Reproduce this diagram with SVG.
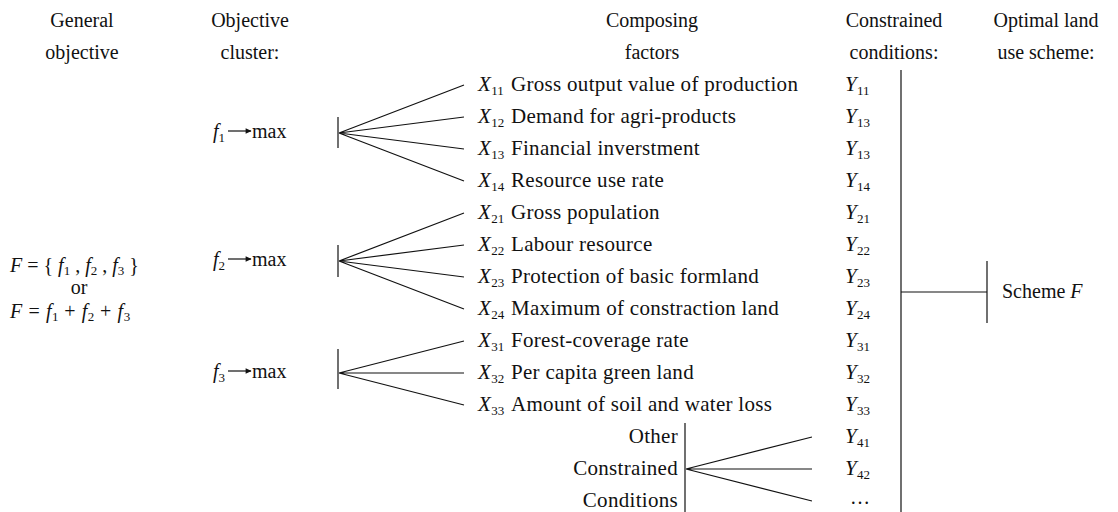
<svg xmlns="http://www.w3.org/2000/svg" width="1118" height="512" viewBox="0 0 1118 512">
<defs>
<style>
.t{font-family:"Liberation Serif","Times New Roman",serif;font-size:20px;fill:#111}
.d{font-size:21px;letter-spacing:0.3px}
.h{text-anchor:middle}
.e{text-anchor:end}
.i{font-style:italic}
.s{font-size:13px;letter-spacing:0}
.ln{stroke:#111;stroke-width:1.2;fill:none}
</style>
<marker id="ah" viewBox="0 0 10 10" refX="9" refY="5" markerWidth="8" markerHeight="6" orient="auto" markerUnits="userSpaceOnUse">
<path d="M0,0.5 L10,5 L0,9.5 Z" fill="#111"/>
</marker>
</defs>
<rect width="1118" height="512" fill="#fff"/>

<g id="headers">
<text class="t h" x="82" y="27">General</text>
<text class="t h" x="82" y="59">objective</text>
<text class="t h" x="250" y="27">Objective</text>
<text class="t h" x="250" y="59">cluster:</text>
<text class="t h" x="652" y="27">Composing</text>
<text class="t h" x="652" y="59">factors</text>
<text class="t h" x="894" y="27">Constrained</text>
<text class="t h" x="894" y="59">conditions:</text>
<text class="t h" x="1046" y="27">Optimal land</text>
<text class="t h" x="1046" y="59">use scheme:</text>
</g>

<g id="general-objective">
<text class="t" x="10" y="272" font-size="21"><tspan class="i">F</tspan> = { <tspan class="i">f</tspan><tspan class="s" dy="3">1</tspan><tspan dy="-3"> , </tspan><tspan class="i">f</tspan><tspan class="s" dy="3">2</tspan><tspan dy="-3"> , </tspan><tspan class="i">f</tspan><tspan class="s" dy="3">3</tspan><tspan dy="-3"> }</tspan></text>
<text class="t h" x="79" y="294" font-size="17">or</text>
<text class="t" x="10" y="318" font-size="21" letter-spacing="0.6"><tspan class="i">F</tspan> = <tspan class="i">f</tspan><tspan class="s" dy="3">1</tspan><tspan dy="-3"> + </tspan><tspan class="i">f</tspan><tspan class="s" dy="3">2</tspan><tspan dy="-3"> + </tspan><tspan class="i">f</tspan><tspan class="s" dy="3">3</tspan></text>
</g>

<g id="f1">
<text class="t" x="213" y="138"><tspan class="i">f</tspan><tspan class="s" dy="4">1</tspan></text>
<line class="ln" x1="228" y1="131" x2="251" y2="131" marker-end="url(#ah)"/>
<text class="t" x="252" y="138">max</text>
</g>
<g id="f2">
<text class="t" x="213" y="266"><tspan class="i">f</tspan><tspan class="s" dy="4">2</tspan></text>
<line class="ln" x1="228" y1="259" x2="251" y2="259" marker-end="url(#ah)"/>
<text class="t" x="252" y="266">max</text>
</g>
<g id="f3">
<text class="t" x="213" y="378"><tspan class="i">f</tspan><tspan class="s" dy="4">3</tspan></text>
<line class="ln" x1="228" y1="371" x2="251" y2="371" marker-end="url(#ah)"/>
<text class="t" x="252" y="378">max</text>
</g>

<g id="factors">
<text class="t d" x="478" y="91"><tspan class="i">X</tspan><tspan class="s" dy="4">11</tspan><tspan x="511" dy="-4">Gross output value of production</tspan></text>
<text class="t d" x="478" y="123"><tspan class="i">X</tspan><tspan class="s" dy="4">12</tspan><tspan x="511" dy="-4">Demand for agri-products</tspan></text>
<text class="t d" x="478" y="155"><tspan class="i">X</tspan><tspan class="s" dy="4">13</tspan><tspan x="511" dy="-4">Financial inverstment</tspan></text>
<text class="t d" x="478" y="187"><tspan class="i">X</tspan><tspan class="s" dy="4">14</tspan><tspan x="511" dy="-4">Resource use rate</tspan></text>
<text class="t d" x="478" y="219"><tspan class="i">X</tspan><tspan class="s" dy="4">21</tspan><tspan x="511" dy="-4">Gross population</tspan></text>
<text class="t d" x="478" y="251"><tspan class="i">X</tspan><tspan class="s" dy="4">22</tspan><tspan x="511" dy="-4">Labour resource</tspan></text>
<text class="t d" x="478" y="283"><tspan class="i">X</tspan><tspan class="s" dy="4">23</tspan><tspan x="511" dy="-4">Protection of basic formland</tspan></text>
<text class="t d" x="478" y="315"><tspan class="i">X</tspan><tspan class="s" dy="4">24</tspan><tspan x="511" dy="-4">Maximum of constraction land</tspan></text>
<text class="t d" x="478" y="347"><tspan class="i">X</tspan><tspan class="s" dy="4">31</tspan><tspan x="511" dy="-4">Forest-coverage rate</tspan></text>
<text class="t d" x="478" y="379"><tspan class="i">X</tspan><tspan class="s" dy="4">32</tspan><tspan x="511" dy="-4">Per capita green land</tspan></text>
<text class="t d" x="478" y="411"><tspan class="i">X</tspan><tspan class="s" dy="4">33</tspan><tspan x="511" dy="-4">Amount of soil and water loss</tspan></text>
</g>

<g id="other-conditions">
<text class="t d e" x="678" y="443">Other</text>
<text class="t d e" x="678" y="475">Constrained</text>
<text class="t d e" x="678" y="507">Conditions</text>
</g>

<g id="constraints">
<text class="t d" x="845" y="91"><tspan class="i">Y</tspan><tspan class="s" dy="4">11</tspan></text>
<text class="t d" x="845" y="123"><tspan class="i">Y</tspan><tspan class="s" dy="4">13</tspan></text>
<text class="t d" x="845" y="155"><tspan class="i">Y</tspan><tspan class="s" dy="4">13</tspan></text>
<text class="t d" x="845" y="187"><tspan class="i">Y</tspan><tspan class="s" dy="4">14</tspan></text>
<text class="t d" x="845" y="219"><tspan class="i">Y</tspan><tspan class="s" dy="4">21</tspan></text>
<text class="t d" x="845" y="251"><tspan class="i">Y</tspan><tspan class="s" dy="4">22</tspan></text>
<text class="t d" x="845" y="283"><tspan class="i">Y</tspan><tspan class="s" dy="4">23</tspan></text>
<text class="t d" x="845" y="315"><tspan class="i">Y</tspan><tspan class="s" dy="4">24</tspan></text>
<text class="t d" x="845" y="347"><tspan class="i">Y</tspan><tspan class="s" dy="4">31</tspan></text>
<text class="t d" x="845" y="379"><tspan class="i">Y</tspan><tspan class="s" dy="4">32</tspan></text>
<text class="t d" x="845" y="411"><tspan class="i">Y</tspan><tspan class="s" dy="4">33</tspan></text>
<text class="t d" x="845" y="443"><tspan class="i">Y</tspan><tspan class="s" dy="4">41</tspan></text>
<text class="t d" x="845" y="475"><tspan class="i">Y</tspan><tspan class="s" dy="4">42</tspan></text>
<text class="t" x="850" y="504">…</text>
</g>

<g id="scheme">
<text class="t" x="1002" y="298">Scheme <tspan class="i">F</tspan></text>
</g>

<g id="connectors">
<line class="ln" x1="338" y1="117" x2="338" y2="148"/>
<path class="ln" d="M339,133 L464,85 M339,133 L464,117 M339,133 L464,149 M339,133 L464,181"/>
<line class="ln" x1="338" y1="245" x2="338" y2="277"/>
<path class="ln" d="M339,261 L464,213 M339,261 L464,245 M339,261 L464,277 M339,261 L464,309"/>
<line class="ln" x1="338" y1="349" x2="338" y2="389"/>
<path class="ln" d="M339,373 L464,341 M339,373 L464,373 M339,373 L464,405"/>
<line class="ln" x1="685" y1="423" x2="685" y2="512"/>
<path class="ln" d="M686,469 L812,437 M686,469 L812,469 M686,469 L812,501"/>
<line class="ln" x1="901" y1="70" x2="901" y2="512"/>
<line class="ln" x1="901" y1="292" x2="987" y2="292"/>
<line class="ln" x1="987" y1="261" x2="987" y2="323"/>
</g>
</svg>
